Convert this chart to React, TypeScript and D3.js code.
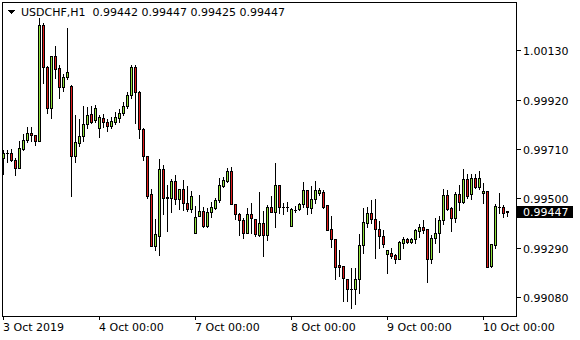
import React from "react";
import * as d3 from "d3";

const symbolTitle = "USDCHF,H1";
const headerValues = ["0.99442", "0.99447", "0.99425", "0.99447"];

const opens = [
  0.99672, 0.99691, 0.99695, 0.99663, 0.99629, 0.9971, 0.99748, 0.99778, 0.99768, 0.99746,
  1.00238, 1.00059, 0.99883, 1.00106, 1.00055, 0.99974, 1.00015, 0.9998, 0.99681, 0.99736,
  0.99767, 0.99817, 0.99859, 0.99834, 0.998, 0.99842, 0.99825, 0.99809, 0.99826, 0.99844,
  0.99863, 0.99893, 0.9994, 1.00061, 0.99952, 0.99794, 0.99679, 0.99517, 0.99298, 0.99341,
  0.99625, 0.99507, 0.99503, 0.99574, 0.99496, 0.99538, 0.99479, 0.99453, 0.99351, 0.99426,
  0.99446, 0.9938, 0.9944, 0.9946, 0.99493, 0.99554, 0.99575, 0.99616, 0.99474, 0.99432,
  0.99408, 0.99352, 0.99432, 0.99411, 0.99342, 0.99393, 0.99342, 0.99462, 0.9944, 0.99557,
  0.99463, 0.99464, 0.99383, 0.99452, 0.99454, 0.99474, 0.99535, 0.9946, 0.99496, 0.99524,
  0.99526, 0.99471, 0.99369, 0.99327, 0.99216, 0.99212, 0.99155, 0.99112, 0.99112, 0.99155,
  0.99301, 0.99396, 0.99436, 0.99411, 0.99368, 0.99341, 0.99261, 0.99266, 0.99258, 0.9924,
  0.99311, 0.99327, 0.99315, 0.99325, 0.99362, 0.99376, 0.99368, 0.9924, 0.9933, 0.99351,
  0.99408, 0.99514, 0.99457, 0.99417, 0.99518, 0.99486, 0.99581, 0.99517, 0.99588, 0.99547,
  0.99521, 0.99531, 0.99213, 0.99301, 0.99465, 0.99462, 0.99442,
];

const highs = [
  0.99706, 0.99706, 0.99708, 0.99672, 0.99744, 0.99774, 0.99804, 0.99802, 0.9977, 1.00266,
  1.00248, 1.00064, 1.00106, 1.00147, 1.00066, 1.0003, 1.00226, 0.99981, 0.99855, 0.99838,
  0.99895, 0.99887, 0.99894, 0.99897, 0.99853, 0.99859, 0.99838, 0.99848, 0.99868, 0.9988,
  0.99912, 0.99953, 1.00068, 1.00068, 0.99958, 0.99798, 0.99681, 0.9954, 0.99412, 0.99667,
  0.99642, 0.99555, 0.99584, 0.99599, 0.9954, 0.99576, 0.99552, 0.99529, 0.99469, 0.99514,
  0.99463, 0.99459, 0.99484, 0.995, 0.99586, 0.99589, 0.99631, 0.99632, 0.99474, 0.99437,
  0.99414, 0.99457, 0.99479, 0.99412, 0.99528, 0.99447, 0.99471, 0.9951, 0.9965, 0.99557,
  0.99481, 0.99486, 0.9946, 0.99467, 0.99481, 0.99568, 0.99535, 0.99552, 0.99574, 0.99543,
  0.99535, 0.99471, 0.99425, 0.99327, 0.9928, 0.99212, 0.99155, 0.99204, 0.99204, 0.99347,
  0.9946, 0.99464, 0.99493, 0.99496, 0.99405, 0.99365, 0.9928, 0.99287, 0.99261, 0.99319,
  0.99334, 0.99332, 0.9933, 0.99368, 0.9939, 0.99408, 0.99368, 0.99344, 0.99415, 0.99426,
  0.99538, 0.99535, 0.99464, 0.99528, 0.99557, 0.99625, 0.99604, 0.99604, 0.99604, 0.99618,
  0.99564, 0.99531, 0.99304, 0.99474, 0.99524, 0.99471, 0.99447,
];

const lows = [
  0.99604, 0.99655, 0.99659, 0.99601, 0.99627, 0.99706, 0.9974, 0.99744, 0.99727, 0.99744,
  0.99991, 0.99865, 0.99844, 1.00013, 0.99927, 0.99959, 1.0001, 0.99511, 0.99655, 0.99723,
  0.99744, 0.998, 0.99822, 0.99826, 0.99761, 0.99804, 0.99787, 0.998, 0.99817, 0.99826,
  0.99855, 0.99885, 0.99927, 0.9982, 0.99756, 0.99663, 0.995, 0.99297, 0.9928, 0.99258,
  0.99432, 0.99362, 0.99443, 0.99476, 0.99456, 0.9945, 0.99448, 0.99443, 0.99351, 0.99426,
  0.99379, 0.99379, 0.9942, 0.99454, 0.99483, 0.99548, 0.99569, 0.99474, 0.9941, 0.99345,
  0.99332, 0.99351, 0.99352, 0.99339, 0.99341, 0.99255, 0.99322, 0.9944, 0.99376, 0.99439,
  0.99432, 0.99446, 0.99383, 0.99443, 0.9945, 0.99464, 0.99433, 0.99439, 0.99481, 0.99514,
  0.9946, 0.99365, 0.99291, 0.99156, 0.9917, 0.99064, 0.99064, 0.99034, 0.99048, 0.99098,
  0.99268, 0.99379, 0.99396, 0.99247, 0.99287, 0.99291, 0.9918, 0.99244, 0.99226, 0.9924,
  0.9929, 0.99311, 0.99311, 0.99311, 0.99336, 0.99351, 0.99145, 0.99226, 0.99308, 0.99272,
  0.9939, 0.9945, 0.99362, 0.994, 0.9945, 0.99481, 0.995, 0.99497, 0.99543, 0.99538,
  0.99479, 0.99209, 0.99209, 0.99287, 0.99439, 0.99422, 0.99425,
];

const closes = [
  0.99693, 0.99695, 0.99665, 0.99629, 0.99714, 0.99748, 0.99778, 0.99768, 0.99746, 1.00238,
  1.00061, 0.99885, 1.00106, 1.00051, 0.99972, 1.00017, 1.00038, 0.99681, 0.9974, 0.99765,
  0.99817, 0.99855, 0.99827, 0.99885, 0.99846, 0.99823, 0.99809, 0.99829, 0.99846, 0.99863,
  0.99893, 0.9994, 1.00061, 0.99952, 0.99794, 0.99681, 0.99511, 0.99298, 0.99347, 0.99625,
  0.995, 0.995, 0.99574, 0.99496, 0.99538, 0.99479, 0.99453, 0.9951, 0.99419, 0.99446,
  0.9938, 0.9944, 0.99462, 0.99493, 0.99555, 0.99578, 0.99616, 0.99474, 0.99432, 0.99408,
  0.99351, 0.99432, 0.99415, 0.99346, 0.99393, 0.99342, 0.99465, 0.9944, 0.99557, 0.99463,
  0.99463, 0.99465, 0.99453, 0.99452, 0.99474, 0.99535, 0.99464, 0.99497, 0.99535, 0.99535,
  0.99464, 0.99365, 0.99325, 0.99209, 0.99209, 0.99159, 0.99112, 0.99112, 0.99155, 0.99301,
  0.99398, 0.99436, 0.99411, 0.99369, 0.99341, 0.99305, 0.9928, 0.99255, 0.9924, 0.99313,
  0.99327, 0.99315, 0.99327, 0.99365, 0.99376, 0.99365, 0.9924, 0.9933, 0.99351, 0.99408,
  0.99514, 0.99454, 0.99417, 0.99518, 0.99486, 0.99581, 0.99511, 0.99588, 0.99547, 0.99585,
  0.99531, 0.99209, 0.99304, 0.99467, 0.99463, 0.99439, 0.99447,
];

const xTickIndex = [0, 24, 48, 72, 96, 120];
const xTickLabels = ["3 Oct 2019", "4 Oct 00:00", "7 Oct 00:00", "8 Oct 00:00", "9 Oct 00:00", "10 Oct 00:00"];
const yTickValues = [1.0013, 0.9992, 0.9971, 0.995, 0.9929, 0.9908];
const lastPrice = 0.99447;

const BULL = "#8fe23a";
const BEAR = "#e01c1c";
const FONT = "DejaVu Sans";

export default function App() {
  const W = 580;
  const H = 340;
  const frame = { l: 2, r: 516, t: 2, b: 316 };
  const n = opens.length;
  const x = d3.scaleLinear().domain([0, n - 1]).range([3, 3 + 4 * (n - 1)]);
  const y = d3.scaleLinear().domain([0.9908, 1.0013]).range([296.9, 50.4]);
  const fmt = d3.format(".5f");
  const row = (p: number) => Math.round(y(p));

  const candles = d3.range(n).map((i) => {
    const cx = Math.round(x(i));
    const o = opens[i], c = closes[i], h = highs[i], l = lows[i];
    const rt = row(Math.max(o, c));
    const rb = row(Math.min(o, c));
    const rh = row(h);
    const rl = row(l);
    const color = c > o ? BULL : BEAR;
    return (
      <g key={i}>
        <line x1={cx + 0.5} x2={cx + 0.5} y1={rh} y2={rl + 1} stroke="#000" strokeWidth={1} />
        {rb - rt < 1 ? (
          <line x1={cx - 1} x2={cx + 2} y1={rt + 0.5} y2={rt + 0.5} stroke="#000" strokeWidth={1} />
        ) : (
          <rect x={cx - 0.5} y={rt + 0.5} width={2} height={rb - rt} fill={color} stroke="#000" strokeWidth={1} />
        )}
      </g>
    );
  });

  const lastRow = row(lastPrice);

  return (
    <>
      <style>{"body{margin:0;background:#fff}"}</style>
      <svg width={W} height={H} style={{ display: "block" }} shapeRendering="crispEdges">
        <rect x={0} y={0} width={W} height={H} fill="#fff" />
        {candles}
        <rect
          x={frame.l + 0.5}
          y={frame.t + 0.5}
          width={frame.r - frame.l}
          height={frame.b - frame.t}
          fill="none"
          stroke="#000"
          strokeWidth={1}
        />
        {yTickValues.map((v) => {
          const r = row(v);
          return (
            <g key={v}>
              <line x1={frame.r + 1} x2={frame.r + 5} y1={r + 0.5} y2={r + 0.5} stroke="#000" />
              <text x={523} y={r + 4.5} fontFamily={FONT} fontSize={11} fill="#000">
                {fmt(v)}
              </text>
            </g>
          );
        })}
        <rect x={frame.r + 1} y={lastRow - 5} width={56} height={12} fill="#000" />
        <text x={523} y={lastRow + 4.5} fontFamily={FONT} fontSize={11} fill="#fff">
          {fmt(lastPrice)}
        </text>
        {xTickIndex.map((idx, k) => {
          const cx = Math.round(x(idx));
          return (
            <g key={idx}>
              <line x1={cx + 0.5} x2={cx + 0.5} y1={frame.b + 1} y2={frame.b + 4} stroke="#000" />
              <text x={cx} y={331} fontFamily={FONT} fontSize={11} fill="#000">
                {xTickLabels[k]}
              </text>
            </g>
          );
        })}
        <path d="M7,10 L15,10 L11,14 Z" fill="#000" />
        <text x={21} y={16} fontFamily={FONT} fontSize={11} fill="#000" style={{ whiteSpace: "pre" }}>
          {symbolTitle + "  " + headerValues.join(" ")}
        </text>
      </svg>
    </>
  );
}
